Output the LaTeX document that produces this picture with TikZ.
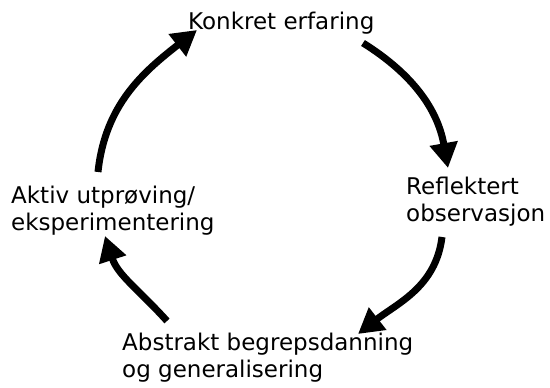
\documentclass[tikz,border=0pt]{standalone}
\usepackage{fontspec}
\setmainfont{DejaVu Sans}
\usepackage{tikz}
\usetikzlibrary{arrows.meta, positioning}
\tikzset{
  fase/.style={inner sep=0pt, align=left, anchor=base west,
               font=\fontsize{23}{27}\selectfont},
  pil/.style={-{Triangle[length=25pt, width=27pt]}, line width=7pt}
}

\begin{document}
\begin{tikzpicture}[x=1pt, y=1pt]
    \useasboundingbox (0,0) rectangle (550,388);
    \node[fase] (konkret)  at (188,358) {Konkret erfaring};
    \node[fase] (refleks)  at (406,166) {Reflektert\\observasjon};
    \node[fase] (abstrakt) at (122,10)  {Abstrakt begrepsdanning\\og generalisering};
    \node[fase] (aktiv)    at (11,157)  {Aktiv utprøving/\\eksperimentering};
    % syklusen
    \draw[pil] ([shift={(175pt,-13pt)}]konkret.base west)
        to[out=-32, in=100] ([shift={(42pt,54pt)}]refleks.base west);
    \draw[pil] ([shift={(36pt,-15pt)}]refleks.base west)
        to[out=-97, in=38] ([shift={(236pt,44pt)}]abstrakt.base west);
    \draw[pil] ([shift={(45pt,57pt)}]abstrakt.base west)
        to[out=132, in=-72] ([shift={(94pt,-5pt)}]aktiv.base west);
    \draw[pil] ([shift={(87pt,59pt)}]aktiv.base west)
        to[out=84, in=218] ([shift={(9pt,0pt)}]konkret.base west);
  \end{tikzpicture}
\end{document}
